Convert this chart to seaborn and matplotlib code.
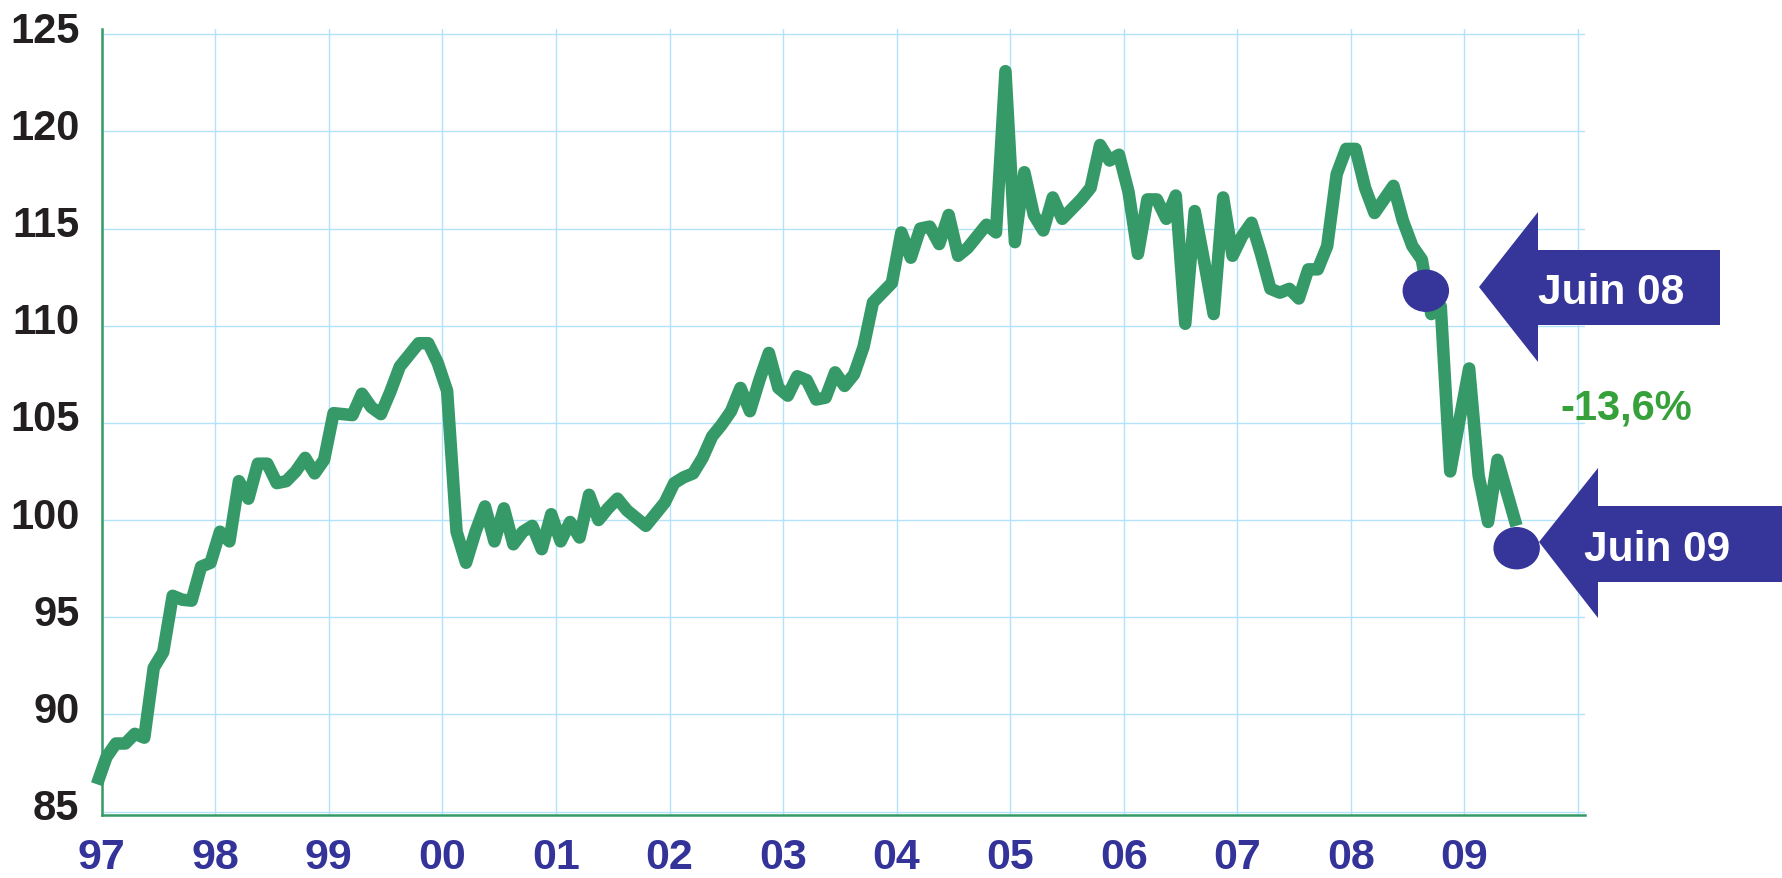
import numpy as np
import pandas as pd
import matplotlib
matplotlib.use("Agg")
import matplotlib.pyplot as plt
import matplotlib.transforms as mtransforms
from matplotlib.patches import Ellipse, Polygon
import seaborn as sns

# monthly index values, Dec 1996 -> Jun 2009
start = "1996-12-01"
v1996 = [86.4]
v1997 = [87.8, 88.5, 88.5, 89.0, 88.8, 92.4, 93.2, 96.1, 95.9, 95.85, 97.6, 97.8]
v1998 = [99.4, 98.9, 102.0, 101.1, 102.9, 102.9, 101.9, 102.0, 102.5, 103.2, 102.4, 103.1]
v1999 = [105.5, 105.45, 105.4, 106.5, 105.8, 105.45, 106.6, 107.9, 108.5, 109.1, 109.1, 108.1]
v2000 = [106.65, 99.4, 97.8, 99.4, 100.7, 98.9, 100.6, 98.75, 99.4, 99.7, 98.5, 100.3]
v2001 = [98.9, 99.9, 99.1, 101.3, 100.0, 100.6, 101.1, 100.5, 100.1, 99.7, 100.3, 100.9]
v2002 = [101.9, 102.2, 102.4, 103.2, 104.3, 104.9, 105.6, 106.8, 105.6, 107.2, 108.6, 106.8]
v2003 = [106.4, 107.4, 107.2, 106.2, 106.3, 107.6, 106.9, 107.5, 108.9, 111.2, 111.7, 112.2]
v2004 = [114.8, 113.5, 115.0, 115.1, 114.2, 115.7, 113.6, 114.0, 114.6, 115.2, 114.8, 123.1]
v2005 = [114.3, 117.9, 115.7, 114.9, 116.6, 115.5, 116.0, 116.5, 117.1, 119.3, 118.5, 118.8]
v2006 = [116.9, 113.7, 116.5, 116.5, 115.5, 116.7, 110.1, 115.9, 113.3, 110.6, 116.6, 113.6]
v2007 = [114.6, 115.3, 113.7, 111.9, 111.7, 111.9, 111.4, 112.9, 112.9, 114.1, 117.8, 119.1]
v2008 = [119.1, 117.1, 115.8, 116.5, 117.2, 115.4, 114.1, 113.4, 110.6, 111.0, 102.5, 105.2]
v2009 = [107.8, 102.3, 99.9, 103.1, 101.4, 99.7]

values = v1996 + v1997 + v1998 + v1999 + v2000 + v2001 + v2002 + v2003 + v2004 + v2005 + v2006 + v2007 + v2008 + v2009
dates = pd.date_range(start, periods=len(values), freq="MS")
df = pd.DataFrame({"date": dates, "value": values})
df["x"] = df["date"].dt.year + (df["date"].dt.month - 0.5) / 12

years = list(range(1997, 2011))
year_labels = ["97", "98", "99", "00", "01", "02", "03", "04", "05", "06", "07", "08", "09", ""]
y_ticks = list(range(85, 126, 5))

ann_labels = ["Juin 08", "Juin 09"]
ann_x = [2008.66, 2009.46]
ann_y = [111.8, 98.55]
change_label = "-13,6%"

GREEN = "#359a67"
BLUE = "#35359a"
GRID = "#b3e2fb"

sns.set_style("white")
plt.rcParams["font.family"] = ["Liberation Sans", "DejaVu Sans"]
plt.rcParams["font.weight"] = "bold"

W, H = 1782, 879
fig = plt.figure(figsize=(W / 100, H / 100), dpi=100)
ax = fig.add_axes([101.7 / W, 1 - 816 / H, (1585 - 101.7) / W, (816 - 30) / H])

sns.lineplot(data=df, x="x", y="value", ax=ax, color=GREEN, linewidth=9,
             clip_on=False, zorder=3)
for ln in ax.get_lines():
    ln.set_linewidth(9)
    ln.set_solid_joinstyle("round")
    ln.set_solid_capstyle("butt")

ax.set_xlim(1997, 1997 + (1585 - 101.7) / 113.56)
ax.set_ylim(84.82, 125.27)
ax.set_xticks(years)
ax.set_xticklabels(year_labels)
ax.set_yticks(y_ticks)
ax.set_yticklabels([str(t) for t in y_ticks])
ax.set_xlabel("")
ax.set_ylabel("")
ax.grid(True, color=GRID, lw=1.0)
ax.set_axisbelow(True)

for s in ["top", "right"]:
    ax.spines[s].set_visible(False)
for s in ["left", "bottom"]:
    ax.spines[s].set_color(GREEN)
    ax.spines[s].set_linewidth(1.8)

ax.tick_params(axis="y", length=0, pad=16, labelsize=30, labelcolor="#231f20")
ax.tick_params(axis="x", length=0, pad=16, labelsize=31, labelcolor="#333399")

# y labels sit a little above their gridline
shift = mtransforms.ScaledTranslation(0, 0.08, fig.dpi_scale_trans)
for lab in ax.get_yticklabels():
    lab.set_transform(lab.get_transform() + shift)

# markers on the curve
for x, y in zip(ann_x, ann_y):
    ax.add_patch(Ellipse((x, y), width=0.397, height=2.11, color=BLUE, zorder=6, clip_on=False))


def px(pts):
    return [(x / W, 1 - y / H) for x, y in pts]


arrow1 = [(1479, 288), (1538, 213), (1538, 251), (1720, 251), (1720, 326), (1538, 326), (1538, 363)]
arrow2 = [(1539, 543), (1598, 469), (1598, 507), (1782, 507), (1782, 583), (1598, 583), (1598, 619)]
for pts in (arrow1, arrow2):
    fig.patches.append(Polygon(px(pts), closed=True, transform=fig.transFigure,
                               facecolor=BLUE, edgecolor="none", zorder=2))

fig.text(1538 / W, 1 - 304 / H, ann_labels[0], color="white", fontsize=30.5,
         fontweight="bold", ha="left", va="baseline", zorder=3)
fig.text(1584 / W, 1 - 560.7 / H, ann_labels[1], color="white", fontsize=30.5,
         fontweight="bold", ha="left", va="baseline", zorder=3)
fig.text(1560 / W, 1 - 420 / H, change_label, color="#36a03a", fontsize=30,
         fontweight="bold", ha="left", va="baseline", zorder=3)

fig.savefig("out.png", dpi=100)
